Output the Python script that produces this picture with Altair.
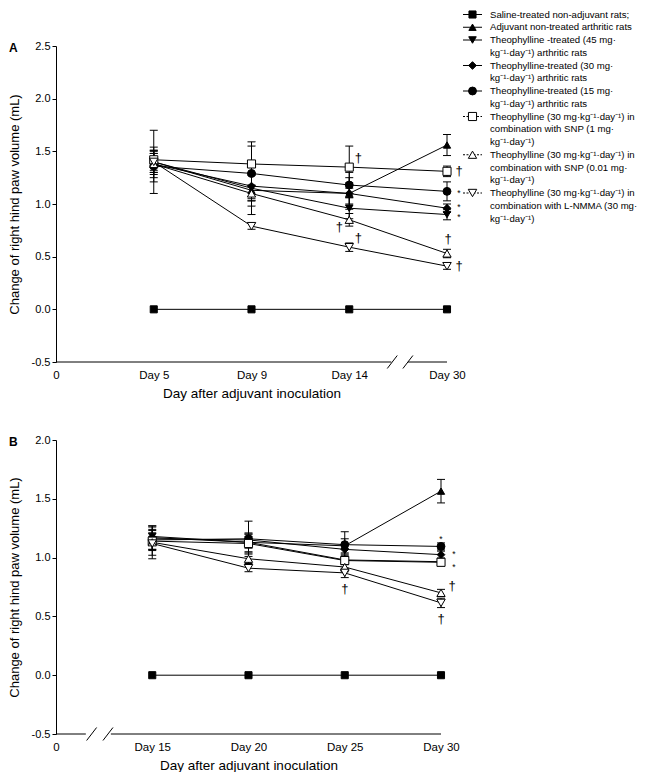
import json
import altair as alt
import pandas as pd

FONT = "Liberation Sans"

# ---------------- series definitions ----------------
series = ["Saline", "Adjuvant", "Theo45", "Theo30", "Theo15", "SNP1", "SNP001", "LNMMA"]
shapes = ["square", "triangle-up", "triangle-down", "diamond", "circle",
          "square", "triangle-up", "triangle-down"]
fills = ["black", "black", "black", "black", "black", "white", "white", "white"]
sizes = [50, 72, 72, 64, 70, 50, 72, 72]
dashes = [[1, 0]] * 5 + [[2, 1.5]] * 3

legend_labels = [
    ["Saline-treated non-adjuvant rats;"],
    ["Adjuvant non-treated arthritic rats"],
    ["Theophylline -treated (45 mg·", "kg⁻¹·day⁻¹) arthritic  rats"],
    ["Theophylline-treated (30 mg·", "kg⁻¹·day⁻¹) arthritic rats"],
    ["Theophylline-treated (15 mg·", "kg⁻¹·day⁻¹) arthritic  rats"],
    ["Theophylline (30 mg·kg⁻¹·day⁻¹) in", "combination with SNP (1 mg·", "kg⁻¹·day⁻¹)"],
    ["Theophylline (30 mg·kg⁻¹·day⁻¹) in", "combination with SNP (0.01 mg·", "kg⁻¹·day⁻¹)"],
    ["Theophylline (30 mg·kg⁻¹·day⁻¹) in", "combination with L-NMMA (30 mg·", "kg⁻¹·day⁻¹)"],
]

# ---------------- panel A data (Day 5, 9, 14, 30) ----------------
xlabels_A = ["0", "Day 5", "Day 9", "Day 14", "Day 30"]
a_saline = [0.0, 0.0, 0.0, 0.0]
a_adjuvant = [1.40, 1.13, 1.10, 1.56]
a_theo45 = [1.40, 1.15, 0.96, 0.90]
a_theo30 = [1.38, 1.17, 1.10, 0.96]
a_theo15 = [1.36, 1.29, 1.18, 1.12]
a_snp1 = [1.42, 1.38, 1.35, 1.31]
a_snp001 = [1.38, 1.10, 0.85, 0.53]
a_lnmma = [1.40, 0.79, 0.59, 0.41]

ea_saline = [0, 0, 0, 0]
ea_adjuvant = [0.30, 0.15, 0.15, 0.10]
ea_theo45 = [0.10, 0.12, 0.10, 0.05]
ea_theo30 = [0.13, 0.12, 0.10, 0.04]
ea_theo15 = [0.15, 0.26, 0.12, 0.09]
ea_snp1 = [0.12, 0.21, 0.20, 0.05]
ea_snp001 = [0.10, 0.20, 0.06, 0.04]
ea_lnmma = [0.08, 0.03, 0.04, 0.03]

ann_A = [
    ("SNP1", 3, "†", "upright"),
    ("SNP001", 3, "†", "left"),
    ("LNMMA", 3, "†", "upright"),
    ("SNP001", 4, "†", "above"),
    ("SNP1", 4, "†", "right"),
    ("LNMMA", 4, "†", "right"),
    ("Theo15", 4, "*", "rightstar"),
    ("Theo30", 4, "*", "rightstar_hi"),
    ("Theo45", 4, "*", "rightstar"),
]
breaks_A = [3.44, 3.60]
segments_A = [(0, 3.43), (3.60, 4)]

# ---------------- panel B data (Day 15, 20, 25, 30) ----------------
xlabels_B = ["0", "Day 15", "Day 20", "Day 25", "Day 30"]
b_saline = [0.0, 0.0, 0.0, 0.0]
b_adjuvant = [1.17, 1.13, 1.10, 1.565]
b_theo45 = [1.18, 1.13, 0.98, 0.965]
b_theo30 = [1.16, 1.15, 1.07, 1.025]
b_theo15 = [1.15, 1.16, 1.11, 1.095]
b_snp1 = [1.14, 1.12, 0.975, 0.96]
b_snp001 = [1.13, 0.99, 0.92, 0.70]
b_lnmma = [1.12, 0.91, 0.87, 0.615]

eb_saline = [0, 0, 0, 0]
eb_adjuvant = [0.10, 0.08, 0.06, 0.10]
eb_theo45 = [0.06, 0.05, 0.04, 0.03]
eb_theo30 = [0.05, 0.05, 0.04, 0.03]
eb_theo15 = [0.08, 0.15, 0.11, 0.03]
eb_snp1 = [0.12, 0.08, 0.03, 0.03]
eb_snp001 = [0.14, 0.04, 0.04, 0.03]
eb_lnmma = [0.06, 0.03, 0.04, 0.04]

ann_B = [
    ("LNMMA", 3, "†", "below"),
    ("Theo15", 4, "*", "abovestar"),
    ("Theo30", 4, "*", "rightstar_up"),
    ("Theo45", 4, "*", "rightstar_lo"),
    ("SNP001", 4, "†", "upright2"),
    ("LNMMA", 4, "†", "below"),
]
breaks_B = [0.37, 0.54]
segments_B = [(0, 0.31), (0.57, 4)]

# text offsets (px) and font size for annotation placements
placements = {
    "upright": (9, -9, 13),
    "upright2": (11, -7, 13),
    "left": (-10, 7, 13),
    "above": (1, -15, 13),
    "below": (0, 16, 13),
    "right": (12, 0, 13),
    "rightstar": (12, 2, 8.5),
    "rightstar_hi": (12, -1, 8.5),
    "rightstar_up": (13, -1, 8.5),
    "rightstar_lo": (13, 5, 8.5),
    "abovestar": (0, -7, 8.5),
}

shape_scale = alt.Scale(domain=series, range=shapes)
fill_scale = alt.Scale(domain=series, range=fills)
size_scale = alt.Scale(domain=series, range=sizes)
dash_scale = alt.Scale(domain=series, range=dashes)


def panel(vals, errs, xlabels, ymin, ymax, yvals, width, height,
          breaks, segments, ann, letter, xunit_px, yunit_px):
    rows = []
    for s, v, e in zip(series, vals, errs):
        for i, (yy, er) in enumerate(zip(v, e)):
            rows.append(dict(series=s, x=i + 1, y=yy, lo=yy - er, hi=yy + er, err=er))
    df = pd.DataFrame(rows)
    xsc = alt.Scale(domain=[0, 4], nice=False, zero=False)
    ysc = alt.Scale(domain=[ymin, ymax], nice=False, zero=False)

    xaxis = alt.Axis(values=[0, 1, 2, 3, 4],
                     labelExpr=f"{json.dumps(xlabels)}[round(datum.value)]",
                     ticks=False, tickSize=0, domain=False, grid=False,
                     labelFlush=False, labelOverlap=False,
                     title="Day after adjuvant inoculation",
                     labelPadding=7, titlePadding=6,
                     labelFontSize=11.5, titleFontSize=13.5,
                     titleFontWeight="normal", labelColor="black", titleColor="black",
                     labelFont=FONT, titleFont=FONT)
    yaxis = alt.Axis(values=yvals,
                     labelExpr="datum.value < 0 ? '-' + format(-datum.value, '.1f') : format(datum.value, '.1f')",
                     grid=False, tickSize=4, tickColor="black", domainColor="black",
                     labelPadding=2, labelFontSize=11, labelColor="black",
                     labelFlush=False,
                     title="Change of right hind paw volume (mL)", titleFontSize=13,
                     titleFontWeight="normal", titleColor="black", titlePadding=10,
                     labelFont=FONT, titleFont=FONT)

    def X(f="x"):
        return alt.X(f"{f}:Q", scale=xsc, axis=xaxis)

    def Y(f="y"):
        return alt.Y(f"{f}:Q", scale=ysc, axis=yaxis)

    lines = alt.Chart(df).mark_line(color="black", strokeWidth=1).encode(
        x=X(), y=Y(), detail="series:N", order="x:Q")

    edf = df[df.err > 0]
    ebar = alt.Chart(edf).mark_rule(color="black", strokeWidth=1).encode(
        x=X(), y=Y("lo"), y2="hi:Q")
    cap_lo = alt.Chart(edf).mark_tick(orient="horizontal", size=8, thickness=1,
                                      color="black", opacity=1).encode(
        x=X(), y=Y("lo"))
    cap_hi = alt.Chart(edf).mark_tick(orient="horizontal", size=8, thickness=1,
                                      color="black", opacity=1).encode(
        x=X(), y=Y("hi"))

    pts = alt.Chart(df).mark_point(filled=True, opacity=1, strokeWidth=1,
                                   stroke="black").encode(
        x=X(), y=Y(),
        shape=alt.Shape("series:N", scale=shape_scale, legend=None),
        fill=alt.Fill("series:N", scale=fill_scale, legend=None),
        size=alt.Size("series:N", scale=size_scale, legend=None))

    # manual broken x-axis
    seg_df = pd.DataFrame([dict(x=a, x2=b, y=ymin) for a, b in segments])
    seg = alt.Chart(seg_df).mark_rule(color="black", strokeWidth=1).encode(
        x=X(), x2="x2:Q", y=Y())
    hx = 5.0 / xunit_px
    hy = 6.5 / yunit_px
    sl_df = pd.DataFrame([dict(x=c - hx, x2=c + hx, y=ymin - hy, y2=ymin + hy) for c in breaks])
    slashes = alt.Chart(sl_df).mark_rule(color="black", strokeWidth=1).encode(
        x=X(), x2="x2:Q", y=Y(), y2="y2:Q")

    # significance markers
    look = {(r.series, r.x): r.y for r in df.itertuples()}
    ann_layers = []
    for pname, (dx, dy, fs) in placements.items():
        sub = [dict(x=d, y=look[(s, d)], t=t) for s, d, t, p in ann if p == pname]
        if not sub:
            continue
        ann_layers.append(
            alt.Chart(pd.DataFrame(sub)).mark_text(
                dx=dx, dy=dy, fontSize=fs, font=FONT, fill="black",
                align="center", baseline="middle").encode(
                x=X(), y=Y(), text="t:N"))

    letter_layer = alt.Chart(pd.DataFrame({"t": [letter]})).mark_text(
        fontSize=12, fontWeight="bold", font=FONT, align="left",
        baseline="middle", fill="black").encode(
        x=alt.value(-47), y=alt.value(2), text="t:N")

    return alt.layer(lines, ebar, cap_lo, cap_hi, seg, slashes, pts,
                     *ann_layers, letter_layer).properties(width=width, height=height)


# ---------------- legend (drawn beside panel A) ----------------
def legend_layer():
    rows_txt = []
    rows_sym = []
    k = 0
    for s, lab in zip(series, legend_labels):
        rows_sym.append(dict(series=s, line=k))
        for t in lab:
            rows_txt.append(dict(line=k, t=t))
            k += 1
    nlines = k
    lsc = alt.Scale(domain=[0, nlines - 1], range=[-31.5, -31.5 + 12.75 * (nlines - 1)],
                    nice=False, zero=False)
    Yl = alt.Y("line:Q", scale=lsc, axis=None)
    sym_df = pd.DataFrame(rows_sym)
    txt_df = pd.DataFrame(rows_txt)
    lrule = alt.Chart(sym_df).mark_rule(color="black", strokeWidth=1).encode(
        x=alt.value(407), x2=alt.value(426), y=Yl,
        strokeDash=alt.StrokeDash("series:N", scale=dash_scale, legend=None))
    lpts = alt.Chart(sym_df).mark_point(filled=True, opacity=1, strokeWidth=1,
                                        stroke="black").encode(
        x=alt.value(416.5), y=Yl,
        shape=alt.Shape("series:N", scale=shape_scale, legend=None),
        fill=alt.Fill("series:N", scale=fill_scale, legend=None),
        size=alt.Size("series:N", scale=size_scale, legend=None))
    ltxt = alt.Chart(txt_df).mark_text(align="left", baseline="middle", fontSize=9.6,
                                       font=FONT, fill="black").encode(
        x=alt.value(434), y=Yl, text="t:N")
    return alt.layer(lrule, lpts, ltxt)


vals_A = [a_saline, a_adjuvant, a_theo45, a_theo30, a_theo15, a_snp1, a_snp001, a_lnmma]
errs_A = [ea_saline, ea_adjuvant, ea_theo45, ea_theo30, ea_theo15, ea_snp1, ea_snp001, ea_lnmma]
vals_B = [b_saline, b_adjuvant, b_theo45, b_theo30, b_theo15, b_snp1, b_snp001, b_lnmma]
errs_B = [eb_saline, eb_adjuvant, eb_theo45, eb_theo30, eb_theo15, eb_snp1, eb_snp001, eb_lnmma]

wA, hA = 391, 316
wB, hB = 385, 294

panelA = panel(vals_A, errs_A, xlabels_A, -0.5, 2.5, [-0.5, 0, 0.5, 1.0, 1.5, 2.0, 2.5],
               wA, hA, breaks_A, segments_A, ann_A, "A", wA / 4, hA / 3.0)
panelB = panel(vals_B, errs_B, xlabels_B, -0.5, 2.0, [-0.5, 0, 0.5, 1.0, 1.5, 2.0],
               wB, hB, breaks_B, segments_B, ann_B, "B", wB / 4, hB / 2.5)

chartA = alt.layer(panelA, legend_layer()).resolve_scale(y="independent").properties(
    width=wA, height=hA)

chart = alt.vconcat(chartA, panelB, spacing=34).properties(
    padding={"left": 0, "top": 0, "right": 0, "bottom": 0}
).configure(font=FONT).configure_view(stroke=None)

chart.save("out.html", embed_options={"renderer": "svg", "actions": False})
